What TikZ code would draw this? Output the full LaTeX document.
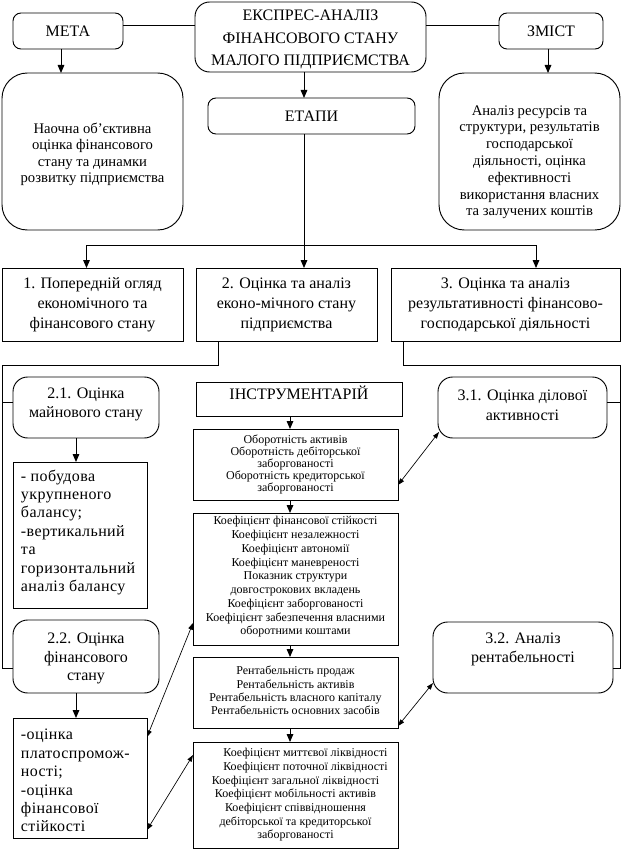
\documentclass[tikz,border=0pt]{standalone}
\usepackage{fontspec}
\setmainfont{Liberation Serif}
\usetikzlibrary{arrows.meta,fit,calc}
\begin{document}
\begin{tikzpicture}[x=0.75pt,y=-0.75pt,
  every node/.style={inner sep=0pt, outer sep=0pt},
  box/.style={draw, line width=0.7pt},
  rbox/.style={box, rounded corners=#1},
  txt/.style={align=center},
  fbig/.style={font={\fontsize{12}{15}\selectfont}},
  fside/.style={font={\fontsize{11}{12.6}\selectfont}},
  flist/.style={font={\fontsize{12}{13.8}\selectfont\addfontfeatures{LetterSpace=2.5}}, align=left, anchor=west, xshift=6pt},
  fsmall/.style={font={\fontsize{9}{#1}\selectfont}},
  conn/.style={line width=0.7pt},
  arr/.style={conn, -{Triangle[length=6pt,width=5pt]}},
  darr/.style={line width=0.5pt, {Triangle[length=5pt,width=3.5pt]}-{Triangle[length=5pt,width=3.5pt]}}
]
\useasboundingbox (0,0) rectangle (622,849);

% ---------- top row ----------
\node[rbox=6pt, fit={(13,13) (123,49)},
  label={[txt, fbig]center:МЕТА}] (meta) {};
\node[rbox=11pt, fit={(195,2) (426,72)},
  label={[txt, font={\fontsize{12}{17}\selectfont}, yshift=-2pt]center:{ЕКСПРЕС-АНАЛІЗ\\ФІНАНСОВОГО СТАНУ\\МАЛОГО ПІДПРИЄМСТВА}}] (title) {};
\node[rbox=6pt, fit={(499,13) (603,49)},
  label={[txt, fbig]center:ЗМІСТ}] (zmist) {};

\node[rbox=19pt, fit={(2,73) (183,230)},
  label={[txt, font={\fontsize{11}{12.3}\selectfont}, yshift=-2pt]center:{Наочна об’єктивна\\оцінка фінансового\\стану та динамки\\розвитку підприємства}}] (goal) {};
\node[rbox=19pt, fit={(439,73) (620,230)},
  label={[txt, fside, yshift=-8pt]center:{Аналіз ресурсів та\\структури, результатів\\господарської\\діяльності, оцінка\\ефективності\\використання власних\\та залучених коштів}}] (content) {};
\node[rbox=6pt, fit={(208,98) (415,134)},
  label={[txt, fbig]center:ЕТАПИ}] (etapy) {};

% ---------- stages ----------
\node[box, fit={(2,268) (183,341)},
  label={[txt, fbig]center:{1. Попередній огляд\\економічного та\\фінансового стану}}] (s1) {};
\node[box, fit={(196,268) (377,341)},
  label={[txt, fbig]center:{2. Оцінка та аналіз\\еконо-мічного стану\\підприємства}}] (s2) {};
\node[box, fit={(391,268) (620,341)},
  label={[txt, fbig]center:{3. Оцінка та аналіз\\результативності фінансово-\\господарської діяльності}}] (s3) {};

% ---------- left branch ----------
\node[rbox=11pt, fit={(13,377) (159,438)},
  label={[txt, font={\fontsize{12}{14.3}\selectfont}, yshift=2pt]center:{2.1. Оцінка\\майнового стану}}] (s21) {};
\node[box, fit={(13,462) (147,608)},
  label={[flist, yshift=2pt]west:{- побудова\\укрупненого\\балансу;\\-вертикальний\\та\\горизонтальний\\аналіз балансу}}] (s21l) {};
\node[rbox=11pt, fit={(13,620) (159,693)},
  label={[txt, font={\fontsize{12}{14}\selectfont}, yshift=-1.5pt]center:{2.2. Оцінка\\фінансового\\стану}}] (s22) {};
\node[box, fit={(13,718) (147,838)},
  label={[flist, yshift=-2pt]west:{-оцінка\\платоспромож-\\ності;\\-оцінка\\фінансової\\стійкості}}] (s22l) {};

% ---------- instruments ----------
\node[box, fit={(196,382) (402,416)},
  label={[txt, fbig, yshift=4.5pt]center:ІНСТРУМЕНТАРІЙ}] (instr) {};
\node[box, fit={(193,429) (398,500)},
  label={[txt, fsmall=9]center:{Оборотність активів\\Оборотність дебіторської\\заборгованості\\Оборотність кредиторської\\заборгованості}}] (t1) {};
\node[box, fit={(193,513) (398,645)},
  label={[txt, fsmall=10.3, yshift=1.5pt]center:{Коефіцієнт фінансової стійкості\\Коефіцієнт незалежності\\Коефіцієнт автономії\\Коефіцієнт маневреності\\Показник структури\\довгострокових вкладень\\Коефіцієнт заборгованості\\Коефіцієнт забезпечення власними\\оборотними коштами}}] (t2) {};
\node[box, fit={(193,657) (398,728)},
  label={[txt, fsmall=10, yshift=1.5pt]center:{Рентабельність продаж\\Рентабельність активів\\Рентабельність власного капіталу\\Рентабельність основних засобів}}] (t3) {};
\node[box, fit={(193,742) (398,848)},
  label={[txt, fsmall=10.25]center:{\hspace*{15pt}Коефіцієнт миттєвої ліквідності\\\hspace*{15pt}Коефіцієнт поточної ліквідності\\Коефіцієнт загальної ліквідності\\Коефіцієнт мобільності активів\\Коефіцієнт співвідношення\\дебіторської та кредиторської\\заборгованості}}] (t4) {};

% ---------- right branch ----------
\node[rbox=11pt, fit={(438,377) (607,438)},
  label={[txt, font={\fontsize{12}{15}\selectfont}, yshift=2pt]center:{3.1. Оцінка ділової\\активності}}] (s31) {};
\node[rbox=11pt, fit={(433,622) (613,693)},
  label={[txt, font={\fontsize{12}{14.3}\selectfont}, yshift=6pt]center:{3.2. Аналіз\\рентабельності}}] (s32) {};

% ---------- helper coordinates ----------
\coordinate (y25) at (0,25);
\coordinate (x61) at (61,0);
\coordinate (x548) at (548,0);
\coordinate (x304) at (304,0);
\coordinate (jn) at (304,245);
\coordinate (j1) at (86.5,245);
\coordinate (j3) at (536,245);
\coordinate (l1) at (218,365);
\coordinate (l2) at (2,365);
\coordinate (l3) at (2,668);
\coordinate (l4) at (2,402);
\coordinate (r1) at (403,365);
\coordinate (r2) at (620,365);
\coordinate (r3) at (620,668);
\coordinate (r4) at (620,402);
\coordinate (x76) at (76,0);
\coordinate (x290) at (290,0);
\coordinate (c485) at (0,485);
\coordinate (c737) at (0,737);
\coordinate (c623) at (0,623);
\coordinate (c830) at (0,830);
\coordinate (c755) at (0,755);
\coordinate (c726) at (0,726);
\coordinate (c683) at (0,683);

% ---------- connectors ----------
\draw[conn] (meta.east |- y25) -- (title.west |- y25);
\draw[conn] (title.east |- y25) -- (zmist.west |- y25);
\draw[arr] (meta.south -| x61) -- (goal.north -| x61);
\draw[arr] (zmist.south -| x548) -- (content.north -| x548);
\draw[arr] (title.south -| x304) -- (etapy.north -| x304);

\draw[conn] (etapy.south -| x304) -- (jn);
\draw[arr] (jn) -- (s2.north -| jn);
\draw[arr] (jn) -- (j1) -- (s1.north -| j1);
\draw[arr] (jn) -- (j3) -- (s3.north -| j3);

\draw[conn] (s2.south -| l1) -- (l1) -- (l2) -- (l3) -- (s22.west |- l3);
\draw[conn] (l4) -- (s21.west |- l4);
\draw[conn] (s3.south -| r1) -- (r1) -- (r2) -- (r3) -- (s32.east |- r3);
\draw[conn] (r4) -- (s31.east |- r4);

\draw[arr] (s21.south -| x76) -- (s21l.north -| x76);
\draw[arr] (s22.south -| x76) -- (s22l.north -| x76);

\draw[arr] (instr.south -| x290) -- (t1.north -| x290);
\draw[arr] (t1.south -| x290) -- (t2.north -| x290);
\draw[arr] (t2.south -| x290) -- (t3.north -| x290);
\draw[arr] (t3.south -| x290) -- (t4.north -| x290);

\draw[darr] (t1.east |- c485) -- ($(s31.south west)+(1,-6)$);
\draw[darr] (s22l.east |- c737) -- (t2.west |- c623);
\draw[darr] (s22l.east |- c830) -- (t4.west |- c755);
\draw[darr] (t3.east |- c726) -- (s32.west |- c683);
\end{tikzpicture}
\end{document}
